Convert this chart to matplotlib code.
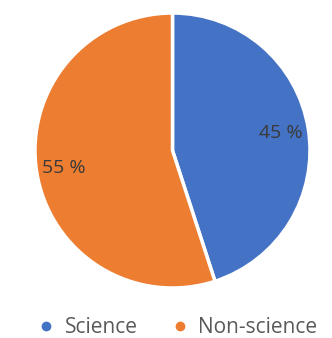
import matplotlib.pyplot as plt
from matplotlib.lines import Line2D

# data
labels = ["Science", "Non-science"]
values = [45, 55]
colors = ["#4472C4", "#ED7D31"]

plt.rcParams['font.family'] = ['Open Sans', 'DejaVu Sans']

fig = plt.figure(figsize=(3.32, 3.38), dpi=100)
ax = fig.add_axes([35 / 332, 50 / 338, 275 / 332, 275 / 338])

wedges, texts, autotexts = ax.pie(
    values, colors=colors, startangle=90, counterclock=False,
    autopct="%d %%", pctdistance=0.8,
    wedgeprops=dict(edgecolor="white", linewidth=2.5),
    textprops=dict(color="#3a3a3a", fontsize=14),
)
ax.set_xlim(-1.0, 1.0)
ax.set_ylim(-1.0, 1.0)
ax.set_aspect("equal")
ax.axis("off")

handles = [Line2D([], [], marker="o", linestyle="", markersize=6,
                  markerfacecolor=c, markeredgecolor=c) for c in colors]
fig.legend(handles, labels, loc="center", bbox_to_anchor=(0.532, 0.03),
           ncol=2, frameon=False, fontsize=15, labelcolor="#595959",
           handletextpad=0.4, columnspacing=1.5, handlelength=1.0,
           borderpad=0)

fig.savefig("out.png", dpi=100)
